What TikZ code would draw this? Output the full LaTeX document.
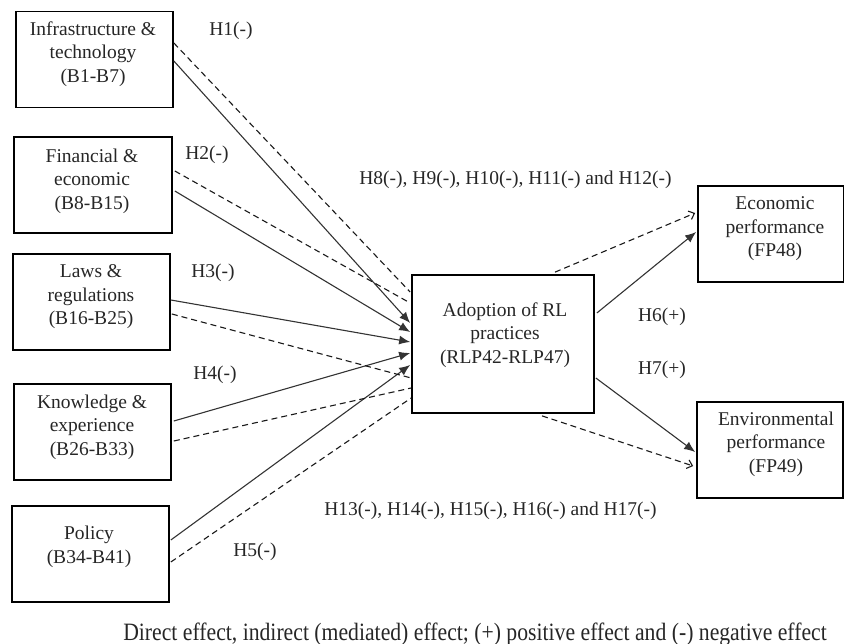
\documentclass[tikz,border=0pt]{standalone}
\usepackage{fontspec}
\setmainfont{Liberation Serif}
\usetikzlibrary{arrows.meta,calc}
\begin{document}
\begin{tikzpicture}[x=1pt,y=-1pt,
  box/.style={draw=black, line width=1.7pt, minimum width=157pt, minimum height=96pt, inner sep=0pt},
  txt/.style={align=center, font=\fontsize{19.5}{23.5}\selectfont, inner sep=0pt, text=black!85},
  lab/.style={font=\fontsize{19.5}{23.5}\selectfont, inner sep=0pt, text=black!85},
  direct/.style={draw=black!80, line width=1.1pt, -{Latex[length=11pt,width=9pt]}},
  indirect/.style={draw=black!90, line width=1.1pt, dash pattern=on 6pt off 4pt},
  indarrow/.style={indirect, -{Straight Barb[length=5pt,width=9pt,line width=1.1pt]}}
]
\useasboundingbox (0,0) rectangle (844,644);

% boxes
\node[box] (infra) at (94.5,59.5) {};
\node[box, minimum width=158pt] (fin) at (93,185) {};
\node[box] (laws) at (91.5,302) {};
\node[box] (know) at (92.5,432) {};
\node[box] (pol) at (90.5,554) {};
\node[box, minimum width=182pt, minimum height=138pt] (adopt) at (503,344) {};
\node[box, minimum width=146pt] (econ) at (771,234) {};
\node[box, minimum width=146pt] (env) at (770,450) {};

% box texts
\node[txt] (infraT) at (93,54) {Infrastructure \&\\technology\\(B1-B7)};
\node[txt] (finT) at (92,181) {Financial \&\\economic\\(B8-B15)};
\node[txt] (lawsT) at (91,297) {Laws \&\\regulations\\(B16-B25)};
\node[txt] (knowT) at (92,427) {Knowledge \&\\experience\\(B26-B33)};
\node[txt] (polT) at (89,547) {Policy\\(B34-B41)};
\node[txt] (adoptT) at (505,335) {Adoption of RL\\practices\\(RLP42-RLP47)};
\node[txt] (econT) at (775,229) {Economic\\performance\\(FP48)};
\node[txt] (envT) at (776,444) {Environmental\\performance\\(FP49)};

% direct effects
\draw[direct] ($(infra.east)+(0,1.5)$) -- ($(adopt.west)+(-1,-21)$);
\draw[direct] ($(fin.east)+(2,6)$) -- ($(adopt.west)+(-1,-12)$);
\draw[direct] ($(laws.east)+(0,-2)$) -- ($(adopt.west)+(-1,-2)$);
\draw[direct] ($(know.east)+(2,-11)$) -- ($(adopt.west)+(-1,9)$);
\draw[direct] ($(pol.east)+(1,-14)$) -- ($(adopt.west)+(-1,21)$);
\draw[direct] ($(adopt.east)+(2,-31)$) -- ($(econ.west)+(-1,-2)$);
\draw[direct] ($(adopt.east)+(1,34)$) -- ($(env.west)+(-1,2)$);

% indirect effects
\draw[indirect] ($(infra.east)+(0,-16.5)$) -- ($(adopt.west)+(-1,-52)$);
\draw[indirect] ($(fin.east)+(2,-14)$) -- ($(adopt.west)+(-1,-41)$);
\draw[indirect] ($(laws.east)+(1,12)$) -- ($(adopt.west)+(0,34)$);
\draw[indirect] ($(know.east)+(2,9)$) -- ($(adopt.west)+(0,44)$);
\draw[indirect] ($(pol.east)+(1,8)$) -- ($(adopt.west)+(0,54)$);
\draw[indarrow] ($(adopt.north)+(52,-2)$) -- ($(econ.west)+(-2,-21)$);
\draw[indarrow] ($(adopt.south)+(39,2)$) -- ($(env.west)+(-3,16)$);

% labels
\node[lab] (h1) at (231,31) {H1(-)};
\node[lab] (h2) at (207,155) {H2(-)};
\node[lab] (h3) at (213,273) {H3(-)};
\node[lab] (h4) at (215,375) {H4(-)};
\node[lab] (h5) at (255,552) {H5(-)};
\node[lab] (h8) at (515.5,180) {H8(-), H9(-), H10(-), H11(-) and H12(-)};
\node[lab] (h13) at (490.5,511) {H13(-), H14(-), H15(-), H16(-) and H17(-)};
\node[lab] (h6) at (662,317) {H6(+)};
\node[lab] (h7) at (662,370) {H7(+)};
\node[lab, anchor=base, font=\fontsize{21.7}{26}\selectfont] (cap) at (475,640) {\scalebox{1}[1.15]{Direct effect, indirect (mediated) effect; (+) positive effect and (-) negative effect}};
\end{tikzpicture}
\end{document}
